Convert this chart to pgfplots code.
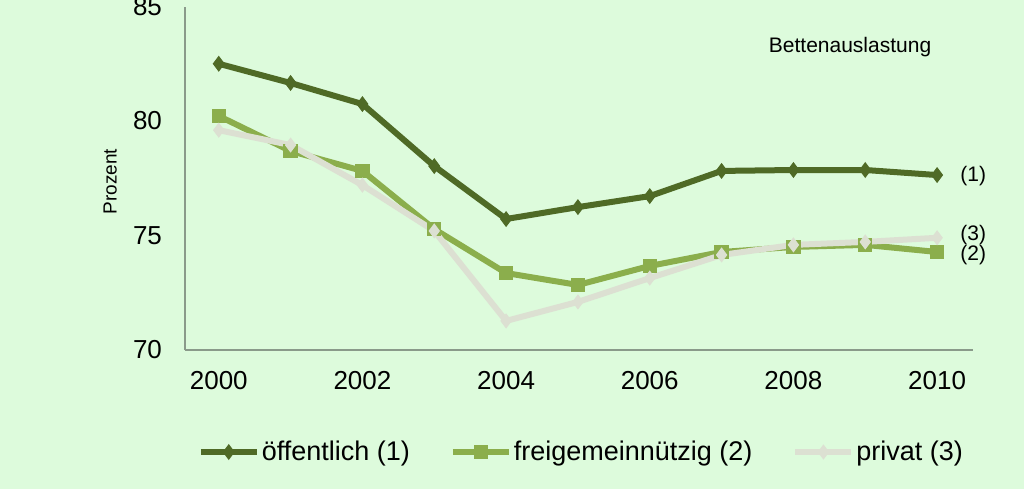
\documentclass[border=0pt]{standalone}
\usepackage{fontspec}
\setmainfont{Liberation Sans}
\usepackage{pgfplots}
\pgfplotsset{compat=1.18}
\definecolor{bg}{HTML}{DDFBDC}
\definecolor{oeff}{HTML}{4F6A26}
\definecolor{frei}{HTML}{8BAE4C}
\definecolor{priv}{HTML}{DCE0D2}
\definecolor{axl}{HTML}{8A9A8A}

\begin{document}
\begin{tikzpicture}
\useasboundingbox (0,0) rectangle (512pt,244.5pt);
\fill[bg] (0,0) rectangle (512pt,244.5pt);
\begin{axis}[at={(92.5pt,69.5pt)}, anchor=south west, scale only axis,
  width=394pt, height=171.75pt,
  xmin=1999.53, xmax=2010.5, ymin=70, ymax=85,
  axis lines*=left, axis line style={axl, line width=0.8pt},
  xtick={2000,2002,...,2010}, ytick={70,75,80,85},
  major tick length=0pt,
  /pgf/number format/assume math mode=true,
  /pgf/number format/1000 sep={},
  tick label style={font=\fontsize{13}{15}\selectfont},
  yticklabel style={xshift=-8pt},
  xticklabel style={yshift=-7pt},
  ylabel={Prozent},
  ylabel style={at={(axis description cs:-0.095,0.49)}, anchor=center, rotate=0,
    font=\fontsize{9.5}{11}\selectfont},
  clip=false,
  legend columns=3,
  legend style={at={(axis description cs:0.503,-0.297)}, anchor=center,
    draw=none, fill=none, font=\fontsize{13.5}{15}\selectfont,
    /tikz/every even column/.append style={column sep=19pt},
    nodes={inner xsep=1pt}},
  legend image code/.code={\draw[mark repeat=2,mark phase=2,#1]
    plot coordinates {(0pt,0pt)(14pt,0pt)(28pt,0pt)};},
]
\addplot[oeff, line width=3pt, mark=diamond*, mark size=3.6pt,
  mark options={line width=0.5pt}] coordinates {
(2000,82.50) (2001,81.66) (2002,80.74) (2003,78.03) (2004,75.72) (2005,76.24)
(2006,76.72) (2007,77.82) (2008,77.86) (2009,77.86) (2010,77.64)};
\addlegendentry{öffentlich (1)}
\addplot[frei, line width=3pt, mark=square*, mark size=3.3pt,
  mark options={line width=0.5pt}] coordinates {
(2000,80.22) (2001,78.69) (2002,77.82) (2003,75.28) (2004,73.36) (2005,72.84)
(2006,73.67) (2007,74.28) (2008,74.50) (2009,74.59) (2010,74.28)};
\addlegendentry{freigemeinnützig (2)}
\addplot[priv, line width=3pt, mark=diamond*, mark size=3.4pt,
  mark options={line width=0.5pt}] coordinates {
(2000,79.60) (2001,78.95) (2002,77.20) (2003,75.20) (2004,71.27) (2005,72.10)
(2006,73.14) (2007,74.15) (2008,74.59) (2009,74.72) (2010,74.90)};
\addlegendentry{privat (3)}
\node[anchor=west, inner sep=0pt, font=\fontsize{10.5}{12}\selectfont]
  at (axis cs:2010.32,77.6) {(1)};
\node[anchor=west, inner sep=0pt, font=\fontsize{10.5}{12}\selectfont]
  at (axis cs:2010.32,75.0) {(3)};
\node[anchor=west, inner sep=0pt, font=\fontsize{10.5}{12}\selectfont]
  at (axis cs:2010.32,74.15) {(2)};
\node[anchor=center, font=\fontsize{10.5}{12}\selectfont]
  at (axis description cs:0.844,0.882) {Bettenauslastung};
\end{axis}
\end{tikzpicture}
\end{document}
